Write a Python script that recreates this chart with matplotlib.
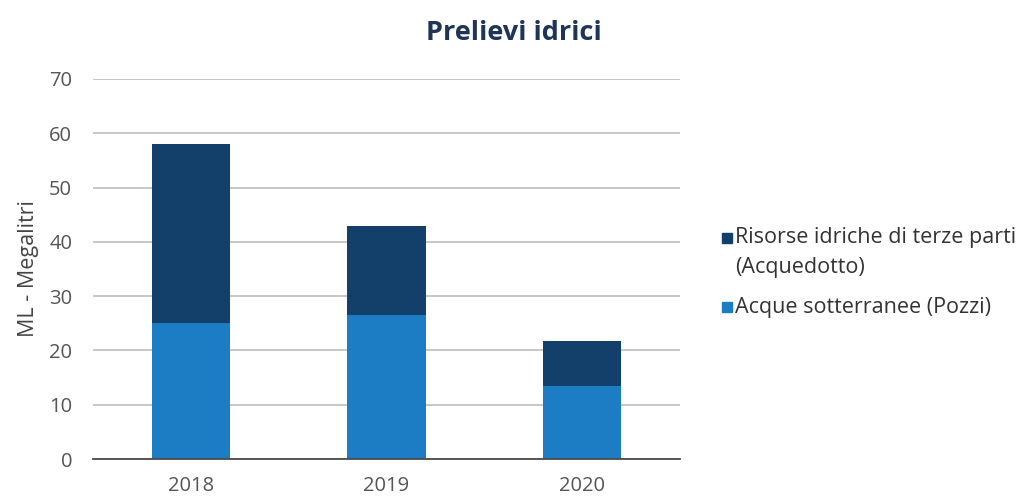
import numpy as np
import matplotlib.pyplot as plt
from matplotlib.patches import Rectangle

plt.rcParams['font.family'] = ['Open Sans', 'DejaVu Sans']

anni = ['2018', '2019', '2020']
pozzi = [25.0, 26.5, 13.4]
acquedotto = [33.0, 16.5, 8.4]
etichette = [['Risorse idriche di terze parti', '(Acquedotto)'], ['Acque sotterranee (Pozzi)']]

col_scuro = '#13406b'
col_chiaro = '#1c7cc4'

fig = plt.figure(figsize=(10.27, 4.98), dpi=100)
ax = fig.add_axes([0.0906, 0.0783, 0.5715, 0.7631])

x = np.arange(len(anni))
ax.bar(x, pozzi, width=0.4, color=col_chiaro, zorder=3)
ax.bar(x, acquedotto, width=0.4, bottom=pozzi, color=col_scuro, zorder=3)

ax.set_xlim(-0.5, 2.5)
ax.set_ylim(0, 70)
ax.set_yticks(range(0, 71, 10))
ax.set_xticks(x)
ax.set_xticklabels(anni)
ax.yaxis.grid(True, color='#bdbdbd', linewidth=1.2, zorder=0)
for s in ['top', 'right', 'left']:
    ax.spines[s].set_visible(False)
ax.spines['bottom'].set_color('#4a4a4a')
ax.spines['bottom'].set_linewidth(1.3)
ax.spines['bottom'].set_zorder(4)
ax.tick_params(axis='both', length=0, labelsize=14.5, colors='#555555')
ax.tick_params(axis='y', pad=15)
ax.tick_params(axis='x', pad=12)
ax.set_ylabel('ML - Megalitri', fontsize=15.5, color='#444444', labelpad=7)

fig.text(0.5005, 0.934, 'Prelievi idrici', ha='center', va='center',
         fontsize=19.5, fontweight='bold', color='#1e3557')

# legenda disegnata a mano (quadratino allineato alla prima riga)
colori = [col_scuro, col_chiaro]
righe_y = [[238, 267], [307]]
for col, testo, ys in zip(colori, etichette, righe_y):
    yc = 1 - ys[0] / 498
    fig.add_artist(Rectangle((722 / 1027, yc - 5 / 498), 10 / 1027, 10 / 498,
                             transform=fig.transFigure, color=col))
    for riga, yy in zip(testo, ys):
        fig.text(735 / 1027, 1 - yy / 498, riga, ha='left', va='center',
                 fontsize=15.5, color='#333333')

fig.savefig('out.png', dpi=100)
